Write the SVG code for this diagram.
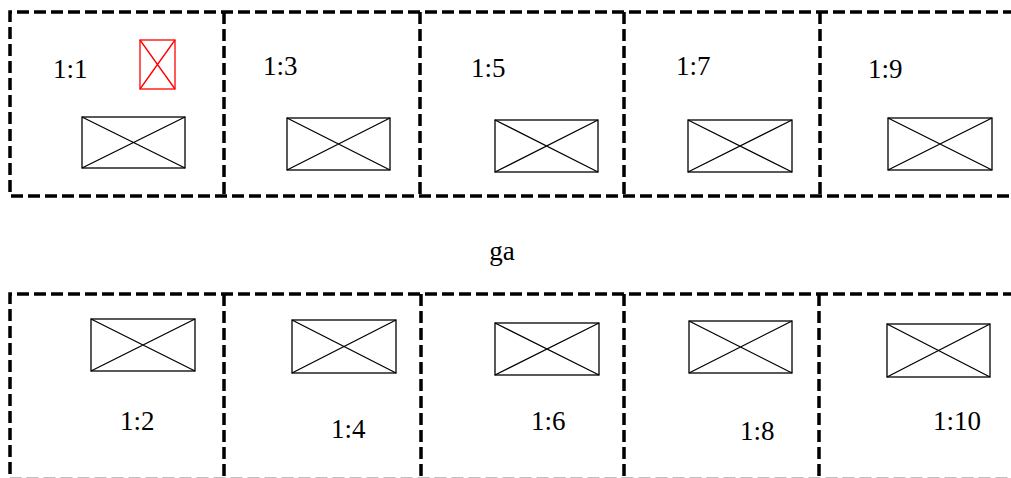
<svg xmlns="http://www.w3.org/2000/svg" width="1011" height="478" viewBox="0 0 1011 478">
<style>
.dash{fill:none;stroke:#000;stroke-width:3.5;stroke-dasharray:12 5}
.box{fill:none;stroke:#000;stroke-width:1.3}
.red{fill:none;stroke:#f00;stroke-width:1.3}
text{fill:#000}
</style>
<g id="frames">
<path class="dash" d="M1015 12 H10 V196 H1015"/>
<path class="dash" d="M224 12 V196 M420 12 V196 M624 12 V196 M820 12 V196"/>
<path class="dash" d="M1015 294 H10 V479.5 H1015"/>
<path class="dash" d="M224 294 V478 M421 294 V478 M624 294 V478 M819 294 V478"/>
</g>
<g font-family="Liberation Serif, Times New Roman, serif" font-size="27">
<g id="cell-1-1">
<text x="53" y="78">1:1</text>
<g class="red"><rect x="140" y="40" width="35" height="49"/><path d="M140 40 L175 89 M175 40 L140 89"/></g>
<g class="box"><rect x="82" y="117" width="103" height="51"/><path d="M82 117 L185 168 M185 117 L82 168"/></g>
</g>
<g id="cell-1-3">
<text x="263" y="75">1:3</text>
<g class="box"><rect x="287" y="118" width="103" height="52"/><path d="M287 118 L390 170 M390 118 L287 170"/></g>
</g>
<g id="cell-1-5">
<text x="471" y="77">1:5</text>
<g class="box"><rect x="495" y="120" width="103" height="52"/><path d="M495 120 L598 172 M598 120 L495 172"/></g>
</g>
<g id="cell-1-7">
<text x="676" y="75">1:7</text>
<g class="box"><rect x="688" y="120" width="104" height="52"/><path d="M688 120 L792 172 M792 120 L688 172"/></g>
</g>
<g id="cell-1-9">
<text x="868" y="78">1:9</text>
<g class="box"><rect x="888" y="118" width="104" height="52"/><path d="M888 118 L992 170 M992 118 L888 170"/></g>
</g>
<g id="label-ga">
<text x="502" y="260" text-anchor="middle">ga</text>
</g>
<g id="cell-1-2">
<g class="box"><rect x="91" y="319" width="104" height="52"/><path d="M91 319 L195 371 M195 319 L91 371"/></g>
<text x="120" y="430">1:2</text>
</g>
<g id="cell-1-4">
<g class="box"><rect x="292" y="320" width="104" height="53"/><path d="M292 320 L396 373 M396 320 L292 373"/></g>
<text x="331" y="438">1:4</text>
</g>
<g id="cell-1-6">
<g class="box"><rect x="495" y="323" width="104" height="52"/><path d="M495 323 L599 375 M599 323 L495 375"/></g>
<text x="531" y="430">1:6</text>
</g>
<g id="cell-1-8">
<g class="box"><rect x="689" y="321" width="103" height="52"/><path d="M689 321 L792 373 M792 321 L689 373"/></g>
<text x="740" y="440">1:8</text>
</g>
<g id="cell-1-10">
<g class="box"><rect x="887" y="324" width="103" height="53"/><path d="M887 324 L990 377 M990 324 L887 377"/></g>
<text x="933" y="430">1:10</text>
</g>
</g>
</svg>
